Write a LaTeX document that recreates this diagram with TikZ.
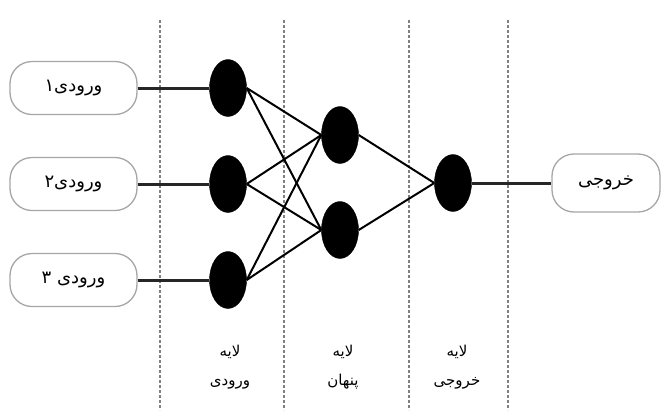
\documentclass[tikz,border=0pt]{standalone}
\usepackage{fontspec}
\usetikzlibrary{shapes.geometric}
\TeXXeTstate=1
\newfontfamily\arabicfont[Script=Arabic]{DejaVu Sans}
\tikzset{
  neuron/.style={ellipse, fill=black, draw=black, minimum width=37pt, minimum height=57pt, inner sep=0pt},
  iobox/.style={draw=gray!70, line width=1.3pt, rounded corners=22pt, fill=white, minimum width=127pt, minimum height=53pt, inner sep=0pt, font=\arabicfont\fontsize{18}{20}\selectfont},
  sep/.style={gray, line width=1.2pt, dash pattern=on 3pt off 2pt},
  wire/.style={black!85, line width=3pt},
  link/.style={black, line width=2pt},
  layerlbl/.style={align=center, font=\arabicfont\fontsize{15}{29}\selectfont, inner sep=0pt}
}
\begin{document}
\begin{tikzpicture}[x=1pt,y=-1pt]
\useasboundingbox (0,0) rectangle (668,410);
% dashed separators
\coordinate (s1t) at (160,20); \coordinate (s1b) at (160,410);
\coordinate (s2t) at (284,20); \coordinate (s2b) at (284,410);
\coordinate (s3t) at (409,20); \coordinate (s3b) at (409,410);
\coordinate (s4t) at (508,20); \coordinate (s4b) at (508,410);
\draw[sep] (s1t) -- (s1b);
\draw[sep] (s2t) -- (s2b);
\draw[sep] (s3t) -- (s3b);
\draw[sep] (s4t) -- (s4b);
% input boxes
\node[iobox] (in1) at (73.5,88) {\beginR ورودی۱\endR};
\node[iobox] (in2) at (73.5,184) {\beginR ورودی۲\endR};
\node[iobox] (in3) at (73.5,280) {\beginR ورودی ۳\endR};
\node[iobox, minimum width=108pt, minimum height=58pt] (out) at (606,183) {\beginR خروجی\endR};
% neurons
\node[neuron] (i1) at (228,88) {};
\node[neuron] (i2) at (228,184) {};
\node[neuron] (i3) at (228,280) {};
\node[neuron] (h1) at (340,135) {};
\node[neuron] (h2) at (340,230) {};
\node[neuron] (o1) at (453,183) {};
% wires
\draw[wire] (in1.east) -- (i1.west);
\draw[wire] (in2.east) -- (i2.west);
\draw[wire] (in3.east) -- (i3.west);
\draw[wire] (o1.east) -- (out.west);
% links
\foreach \a in {i1,i2,i3}{
  \foreach \b in {h1,h2}{
    \draw[link] (\a.east) -- (\b.west);
  }
}
\draw[link] (h1.east) -- (o1.west);
\draw[link] (h2.east) -- (o1.west);
% layer labels
\node[layerlbl] (l1) at (230,367) {\beginR لایه\endR\\\beginR ورودی\endR};
\node[layerlbl] (l2) at (343,367) {\beginR لایه\endR\\\beginR پنهان\endR};
\node[layerlbl] (l3) at (457,367) {\beginR لایه\endR\\\beginR خروجی\endR};
\end{tikzpicture}
\end{document}
